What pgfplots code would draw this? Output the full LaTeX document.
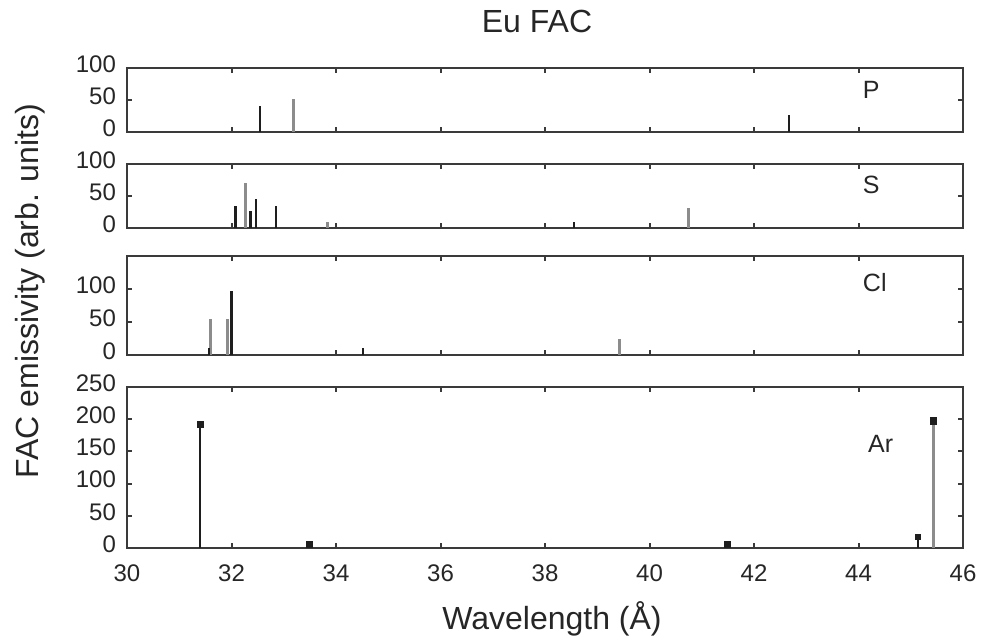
\documentclass[border=0pt]{standalone}
\usepackage{pgfplots}
\pgfplotsset{compat=1.18}
\usepackage{fontspec}
\setmainfont{Liberation Sans}
\definecolor{gbar}{HTML}{8C8C8C}
\definecolor{kbar}{HTML}{1E1E1E}
\definecolor{frm}{HTML}{3A3A3A}
\pgfplotsset{
  panel/.style={
    scale only axis, width=418pt, xmin=30, xmax=46, ymin=0,
    anchor=south west,
    axis line style={frm, line width=1.3pt},
    tick style={frm, line width=1pt},
    tick align=inside, major tick length=2.5pt,
    xtick={30,32,...,46}, xticklabels={},
    every tick label/.append style={font=\fontsize{12}{14}\selectfont, text=black!85},
    yticklabel style={xshift=-2pt, yshift=2pt},
    /pgf/number format/assume math mode=true,
    clip=false,
  },
}
\tikzset{
  gspike/.style={ycomb, no markers, color=gbar, line width=1.5pt},
  kspike/.style={ycomb, no markers, color=kbar, line width=1.2pt},
  lab/.style={anchor=west, font=\fontsize{12.5}{14}\selectfont, text=black!85},
}
\begin{document}
\begin{tikzpicture}
\path[use as bounding box] (0,0) rectangle (494.5pt,318.5pt);
% P panel
\begin{axis}[panel, at={(63.5pt,252.5pt)}, height=32pt, ymax=100, ytick={0,50,100}]
\addplot[gspike] coordinates {(33.18,51)};
\addplot[kspike] coordinates {(32.55,40) (42.67,27)};
\node[lab] at (axis cs:43.95,66) {P};
\end{axis}
% S panel
\begin{axis}[panel, at={(63.5pt,204.5pt)}, height=32pt, ymax=100, ytick={0,50,100}]
\addplot[gspike] coordinates {(32.26,71) (33.83,9) (40.74,31)};
\addplot[kspike] coordinates {(32.08,34) (32.36,27) (32.47,46) (32.85,34) (38.55,9)};
\node[lab] at (axis cs:43.95,67) {S};
\end{axis}
% Cl panel
\begin{axis}[panel, at={(63.5pt,141pt)}, height=49.5pt, ymax=150, ytick={0,50,100,150}, yticklabels={0,50,100,}]
\addplot[gspike] coordinates {(31.60,55) (31.92,55) (39.43,24)};
\addplot[kspike] coordinates {(31.57,11) (32.00,97) (34.52,10)};
\node[lab] at (axis cs:43.95,110) {Cl};
\end{axis}
% Ar panel
\begin{axis}[panel, at={(63.5pt,44.5pt)}, height=80.5pt, ymax=250, ytick={0,50,...,250},
  xticklabels={30,32,34,36,38,40,42,44,46},
  xticklabel style={yshift=-5pt}]
\addplot[gspike, mark=square*, mark size=1.1pt, mark options={fill=kbar, draw=kbar}] coordinates {(45.43,197)};
\addplot[kspike, mark=square*, mark size=1.1pt, mark options={fill=kbar, draw=kbar}] coordinates {(31.40,192) (33.50,6) (41.50,6) (45.14,17)};
\node[lab] at (axis cs:44.05,161) {Ar};
\end{axis}
\node[font=\fontsize{16}{18}\selectfont, text=black!85] at (268.5pt,308pt) {Eu FAC};
\node[font=\fontsize{16}{18}\selectfont, text=black!85] at (276pt,9pt) {Wavelength (Å)};
\node[font=\fontsize{16}{18}\selectfont, text=black!85, rotate=90] at (15pt,173pt) {FAC emissivity (arb. units)};
\end{tikzpicture}
\end{document}
